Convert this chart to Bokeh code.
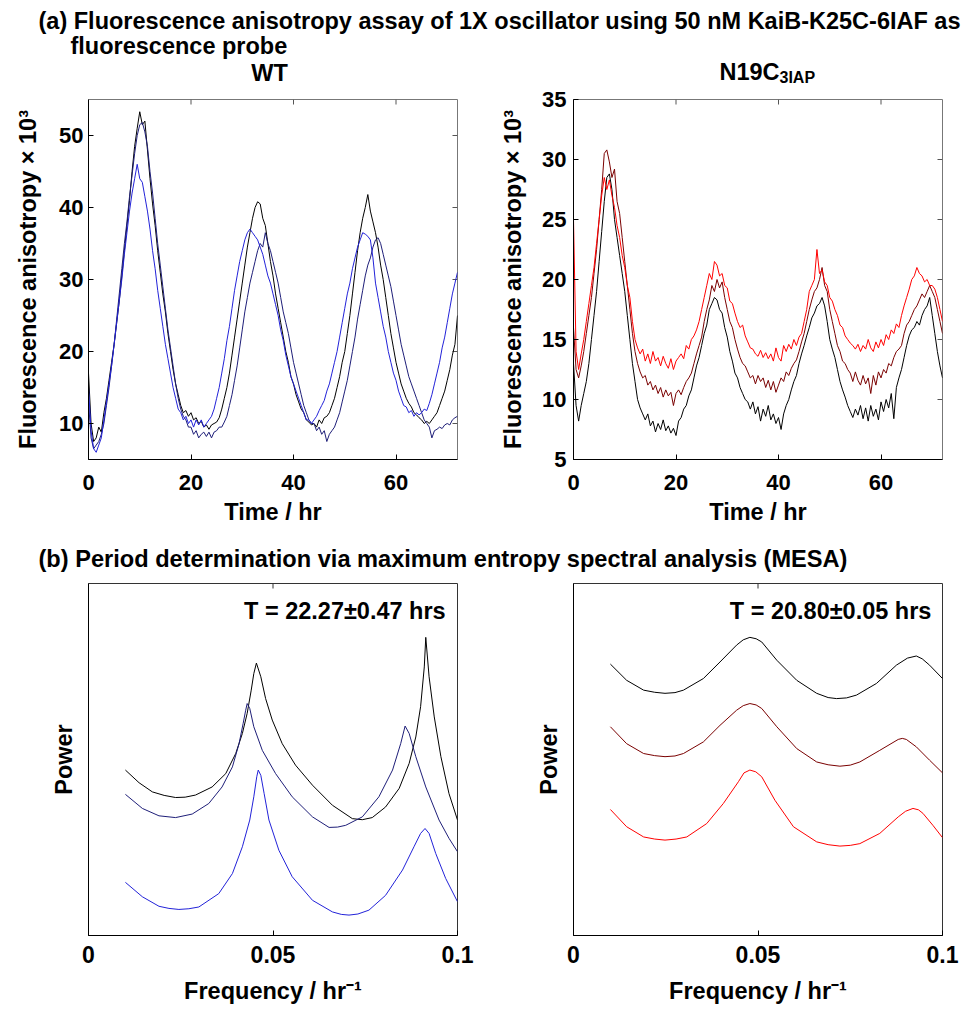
import math
from bokeh.plotting import figure
from bokeh.models import FixedTicker, Range1d, Label
from bokeh.layouts import column, row
from bokeh.embed import file_html
from bokeh.resources import INLINE

FONT = "Liberation Sans"

# ---------------- data: time courses (t = 0 .. 72 h, every 0.5 h) ----------------
TIME_H = [i * 0.5 for i in range(145)]

WT_BLACK = [17, 10, 7.5, 8, 9.5, 8.8, 11.5, 13.5, 16, 18.5,
            21, 24, 27, 30.5, 34, 37.5, 41, 45, 48.5, 51,
            53.3, 51.5, 52, 48, 44, 40.5, 37.5, 34, 31, 28,
            25.5, 22.5, 20, 17.5, 15.5, 14, 12.5, 11.5, 11.8, 11,
            11.5, 10.5, 10.8, 10, 10.3, 9.5, 9.8, 9.2, 9.8, 10,
            10.2, 10.8, 12, 13.5, 15, 17, 19.5, 22, 24.5, 27,
            29.5, 32, 34.5, 36.5, 38.5, 40, 40.8, 40.5, 38.5, 37.5,
            35, 32.5, 30.5, 28, 26, 24, 22, 20, 18.5, 16.5,
            15.5, 14, 13, 12, 11.5, 10.5, 10.2, 9.8, 10, 9.5,
            10.5, 10, 10.8, 11, 11.5, 12.5, 13.5, 15, 16.5, 18.5,
            20, 22.5, 25, 28, 31, 34, 36.5, 38.5, 40, 41.8,
            39.5, 38, 36.5, 34.5, 32, 30, 27.5, 25, 22.5, 20.5,
            18.5, 17, 15.5, 14.5, 13.5, 12.8, 12.3, 11.5, 11.2, 10.8,
            10.5, 10, 10.3, 10, 10.5, 11, 11.5, 12.5, 13.5, 14.5,
            16, 17.5, 19.5, 21, 25]

WT_NAVY = [13, 8, 6.5, 7, 7.5, 8.5, 10, 12.5, 15, 18,
           21, 24.5, 28, 31.5, 35, 38, 41.5, 44.5, 47.5, 50,
           51.5, 51.8, 50.5, 48.5, 45, 42, 38.5, 35, 32, 29,
           26, 23, 20.5, 18, 15.5, 13.5, 12, 11, 10.5, 9.5,
           9.5, 8.5, 9, 8, 8.5, 8.8, 8.2, 8.8, 8, 8.8,
           9, 9.5, 9.5, 10.2, 11, 12.5, 14, 16, 18, 20.5,
           23, 25.5, 27.5, 29.5, 31, 32.5, 34, 35, 34.5, 36.5,
           35, 34, 32.5, 31, 29.5, 27.5, 25.5, 24, 22.5, 20.5,
           18.5, 17, 15.5, 14, 12.5, 11.5, 10.5, 10, 10, 9,
           9.5, 8.5, 9, 7.5, 8.5, 9, 9.5, 10.5, 11.5, 13,
           14.5, 16, 18, 20, 22, 24.5, 26.5, 28.5, 30.5, 32,
           33, 34.5, 35.5, 35.8, 35, 33.5, 32, 30.5, 29, 27,
           25, 23, 21, 19.5, 18, 16.5, 15.5, 14.5, 13.5, 12.5,
           11.5, 10.5, 10, 9.5, 8, 9, 9.2, 9.5, 9.3, 9.8,
           10, 9.8, 10.5, 10.8, 11]

WT_BLUE = [15, 9, 6.5, 6, 7, 8, 10.5, 13, 15.5, 18,
           21, 24, 27, 30, 33.5, 36.5, 39.5, 42, 44, 46,
           44, 43.5, 41.5, 39.5, 37, 34, 31.5, 28.5, 26, 23.5,
           21, 19, 17, 15, 13.5, 12, 11.5, 10.5, 11, 10,
           10.5, 9.5, 10.5, 9.8, 10.5, 9.5, 10, 10.5, 11, 12,
           13.5, 15, 17, 19, 21.5, 23.5, 26, 28.5, 30.5, 32.5,
           34, 35.5, 36.5, 37, 36.5, 36, 35.5, 34.5, 33.5, 32,
           30.5, 29.5, 28, 26.5, 25, 23, 21.5, 19.5, 18, 16.5,
           15.5, 14.5, 13.5, 12.5, 11.5, 10.5, 10.5, 10, 10.5, 11,
           11.8, 12.5, 13.2, 14.5, 15.5, 17, 18.5, 20, 22, 24,
           26, 28, 29.5, 31.5, 33, 34.5, 35.5, 36.5, 36.3, 36,
           35.5, 33, 29.5, 27.5, 25.5, 23.5, 22, 20, 18.5, 17,
           16, 14.5, 13.5, 12.5, 12.3, 11.5, 11.8, 11, 11.5, 11.2,
           11.5, 12, 11.8, 12.8, 14, 15.5, 17, 18.5, 20.5, 22,
           24, 26, 28, 29.5, 31]

N19C_BLACK = [13, 9.5, 8.2, 9.5, 10.5, 11.5, 13, 15, 17, 19,
              21.5, 24, 26.5, 28.5, 28.8, 27.5, 25, 23.5, 22, 20.5,
              19, 17, 15, 13, 11.5, 10, 9.3, 8.8, 8.3, 8.8,
              7.8, 8.2, 7.3, 8, 7.5, 8.3, 7.4, 7.8, 7.2, 7.6,
              7, 8.2, 8.5, 9.2, 9.5, 10.3, 10.8, 11.8, 12.8, 13.5,
              14.5, 15.5, 16.2, 17.5, 18, 18.5, 18.3, 17.5, 17.2, 16,
              15.2, 14, 13.2, 12.2, 11.8, 11, 10.5, 10, 9.8, 9.2,
              9.8, 8.8, 9.4, 8.2, 9.2, 8.6, 9.5, 8.3, 8.8, 8,
              8.5, 7.5, 8.8, 9.5, 10, 10.8, 11.5, 12, 13, 13.8,
              14.5, 15.3, 16, 16.8, 17.2, 17.8, 18, 18.5, 17.8, 16.5,
              15, 14.2, 13.5, 12.5, 11.5, 10.8, 10.2, 9.5, 9, 8.5,
              9.2, 8.7, 9.5, 8.4, 9.3, 8.2, 9.5, 8.6, 9.2, 8.3,
              9.8, 9, 10, 9.3, 10.5, 8.4, 11, 11.8, 12.5, 13.5,
              14.5, 15.3, 15.8, 16, 16.5, 16.2, 17, 17.5, 17.8, 18.5,
              17, 15.5, 14, 12.8, 11.8]

N19C_DARKRED = [16, 12.5, 11.8, 12.8, 14, 15.5, 17, 18.5, 20.5, 22.5,
                25, 27.5, 30.5, 30.8, 29.8, 28.5, 29.2, 26.5, 25.5, 23.5,
                21.5, 19.5, 17.5, 15.5, 14, 13, 12.3, 11.8, 12, 11.2,
                11.5, 10.8, 11.2, 10.5, 11, 10.2, 10.8, 10.3, 10.6, 9.5,
                10.5, 10.8, 10.4, 11, 11.5, 11.8, 12.2, 13, 13.8, 14.5,
                15.2, 16.5, 17.5, 18.3, 19.5, 19, 20, 19.3, 19.8, 18.5,
                17.5, 16.5, 16, 15, 14.2, 13.5, 13, 12.8, 12.3, 11.8,
                12, 11.3, 12, 11.5, 11.8, 11, 11.6, 10.8, 11.5, 10.6,
                11.2, 11.8, 11.5, 12.3, 12, 12.6, 13, 13.3, 14, 14.8,
                15.5, 16.5, 17.5, 18.3, 19, 19.3, 20, 21, 19.5, 19,
                17.5, 16.5, 15.5, 14.5, 14, 13.2, 13, 12.5, 12.2, 11.5,
                12.3, 11.6, 11.2, 12, 11.3, 11.8, 10.5, 12, 11.2, 12.3,
                11.8, 12.5, 12.2, 13, 12.8, 13.5, 14, 14.2, 14.5, 15.5,
                16.2, 16.5, 17, 17.5, 17.8, 18.3, 18.8, 18.5, 19, 19.5,
                19, 18.5, 17.5, 16.5, 15.5]

N19C_RED = [25, 14, 12.5, 13.8, 15, 16.5, 18, 19.5, 21, 23,
            25, 27, 28.5, 27.5, 28.3, 27, 26, 24.5, 23.5, 22,
            21, 19.5, 18.5, 16.5, 15, 14.3, 13.8, 14.2, 13.2, 13.8,
            13, 14, 13.2, 13.5, 12.8, 13.6, 13, 12.6, 13.4, 12.5,
            13.2, 13.5, 13.8, 13.4, 14.5, 14.2, 15, 15.3, 15.8, 16.5,
            17.5, 18.5, 19.5, 20.5, 20, 21.5, 21.2, 20.3, 20.5, 19.5,
            19.3, 18.2, 18, 17.2, 16.5, 16, 16.2, 15.3, 14.8, 14.3,
            14.2, 13.8, 13.6, 14.1, 13.5, 13.9, 13.4, 13.8, 13.2, 14.3,
            13.5, 13.2, 14.5, 14, 14.6, 14.2, 15, 14.5, 15.2, 15.5,
            16.5, 17.5, 19, 19.5, 20, 22.5, 20.5, 20.8, 19.8, 19.5,
            18.5, 18.2, 17.5, 17, 16.2, 16, 15.3, 15, 14.7, 14.5,
            14.2, 14.6, 14, 14.5, 14.2, 15, 14.3, 14, 14.8, 14.3,
            15, 14.5, 15.4, 15, 15.8, 15.5, 16.3, 16, 17, 17.8,
            18.5, 19.2, 20, 20.3, 21, 20.5, 20.3, 19.8, 20, 19.5,
            19.5, 19.2, 18.5, 17.5, 16.5]

# ---------------- data: MESA spectra (frequency in 1/hr, power in arbitrary units) ----------------
WT_SPEC_BLACK_F = [0.0100, 0.0137, 0.0173, 0.0205, 0.0236, 0.0262, 0.0290, 0.0335, 0.0372, 0.0399,
                   0.0417, 0.0430, 0.0441, 0.0448, 0.0455, 0.0467, 0.0480, 0.0498, 0.0525, 0.0561,
                   0.0607, 0.0661, 0.0715, 0.0742, 0.0769, 0.0805, 0.0842, 0.0869, 0.0887, 0.0900,
                   0.0910, 0.0914, 0.0923, 0.0937, 0.0955, 0.0977, 0.1000]
WT_SPEC_BLACK_P = [47.0, 43.4, 40.8, 39.8, 39.2, 39.3, 39.9, 42.2, 46.0, 51.7,
                   57.4, 63.1, 69.7, 74.4, 77.4, 73.5, 67.3, 61.2, 54.5, 48.4,
                   42.7, 37.0, 33.2, 32.9, 33.5, 36.5, 41.8, 48.9, 56.4, 65.0,
                   76.3, 84.7, 73.5, 62.1, 50.8, 40.3, 32.8]
WT_SPEC_NAVY_F = [0.0100, 0.0146, 0.0191, 0.0236, 0.0281, 0.0326, 0.0362, 0.0390, 0.0408, 0.0419,
                  0.0426, 0.0430, 0.0437, 0.0448, 0.0471, 0.0507, 0.0552, 0.0607, 0.0652, 0.0675,
                  0.0697, 0.0742, 0.0787, 0.0824, 0.0846, 0.0858, 0.0869, 0.0887, 0.0914, 0.0950,
                  0.0977, 0.1000]
WT_SPEC_NAVY_P = [40.1, 36.1, 34.0, 33.5, 34.5, 37.5, 42.2, 47.9, 54.5, 60.2,
                  64.0, 65.9, 64.5, 59.3, 52.6, 46.0, 39.4, 33.7, 30.7, 30.8,
                  31.3, 33.7, 39.4, 47.0, 54.5, 59.5, 57.4, 50.8, 42.2, 32.8,
                  27.6, 23.8]
WT_SPEC_BLUE_F = [0.0100, 0.0146, 0.0191, 0.0218, 0.0245, 0.0272, 0.0299, 0.0353, 0.0390, 0.0417,
                  0.0437, 0.0448, 0.0456, 0.0460, 0.0467, 0.0476, 0.0489, 0.0516, 0.0552, 0.0607,
                  0.0661, 0.0685, 0.0706, 0.0730, 0.0760, 0.0805, 0.0851, 0.0882, 0.0900, 0.0912,
                  0.0923, 0.0941, 0.0968, 0.1000]
WT_SPEC_BLUE_P = [15.1, 11.0, 8.3, 7.7, 7.4, 7.6, 8.1, 11.9, 17.6, 25.2,
                  32.8, 39.4, 45.1, 47.0, 45.5, 40.3, 32.8, 24.2, 16.7, 10.0,
                  6.7, 6.0, 5.8, 6.1, 7.2, 11.4, 18.6, 25.2, 29.0, 30.4,
                  29.0, 23.3, 16.2, 9.6]

N19C_SPEC_BLACK_F = [0.0100, 0.0144, 0.0190, 0.0220, 0.0248, 0.0275, 0.0298, 0.0352, 0.0397, 0.0442,
                     0.0460, 0.0478, 0.0495, 0.0510, 0.0551, 0.0605, 0.0659, 0.0690, 0.0713, 0.0740,
                     0.0767, 0.0821, 0.0875, 0.0905, 0.0929, 0.0945, 0.0965, 0.1000]
N19C_SPEC_BLACK_P = [77.1, 72.5, 69.7, 69.1, 68.8, 69.0, 69.7, 73.0, 77.7, 82.5,
                     84.0, 84.7, 84.3, 83.4, 78.2, 72.5, 68.8, 67.6, 67.3, 67.5,
                     68.3, 71.6, 76.8, 78.8, 79.4, 78.6, 76.8, 73.0]
N19C_SPEC_DARKRED_F = [0.0100, 0.0144, 0.0190, 0.0220, 0.0248, 0.0275, 0.0298, 0.0352, 0.0397, 0.0442,
                       0.0460, 0.0478, 0.0495, 0.0510, 0.0551, 0.0605, 0.0659, 0.0690, 0.0722, 0.0750,
                       0.0776, 0.0830, 0.0880, 0.0891, 0.0902, 0.0929, 0.0965, 0.1000]
N19C_SPEC_DARKRED_P = [59.3, 54.5, 51.7, 51.1, 50.8, 51.0, 51.7, 55.0, 59.7, 64.0,
                       65.3, 65.9, 65.5, 64.5, 59.3, 53.1, 49.3, 48.5, 48.1, 48.4,
                       49.3, 52.6, 55.7, 56.0, 55.7, 53.6, 49.8, 46.2]
N19C_SPEC_RED_F = [0.0100, 0.0144, 0.0190, 0.0220, 0.0248, 0.0278, 0.0307, 0.0361, 0.0406, 0.0447,
                   0.0462, 0.0478, 0.0494, 0.0510, 0.0546, 0.0596, 0.0659, 0.0690, 0.0722, 0.0750,
                   0.0776, 0.0830, 0.0880, 0.0900, 0.0920, 0.0935, 0.0947, 0.0974, 0.1000]
N19C_SPEC_RED_P = [35.8, 30.9, 28.0, 27.4, 27.1, 27.4, 28.0, 31.8, 37.5, 43.7,
                   46.2, 47.0, 46.5, 45.1, 38.4, 30.9, 26.6, 25.8, 25.4, 25.6,
                   26.1, 29.0, 33.7, 35.3, 36.1, 35.7, 34.7, 31.3, 27.8]

# ---------------- ticks and texts ----------------
TIME_TICKS = [0, 20, 40, 60]
WT_Y_TICKS = [10, 20, 30, 40, 50]
N19C_Y_TICKS = [5, 10, 15, 20, 25, 30, 35]
FREQ_TICKS = [0, 0.05, 0.1]
FREQ_TICK_LABELS = ["0", "0.05", "0.1"]
PERIOD_WT = "T = 22.27\u00b10.47 hrs"
PERIOD_N19C = "T = 20.80\u00b10.05 hrs"

TITLE_A1 = "(a) Fluorescence anisotropy assay of 1X oscillator using 50 nM KaiB-K25C-6IAF as"
TITLE_A2 = "fluorescence probe"
TITLE_B = "(b) Period determination via maximum entropy spectral analysis (MESA)"
PANEL_WT = "WT"
PANEL_MUT = "N19C"
PANEL_MUT_SUB = "3IAP"
YLABEL_FA = "Fluorescence anisotropy \u00d7 10\u00b3"
XLABEL_T = "Time / hr"
XLABEL_F = "Frequency / hr\u207b\u00b9"

C_BLACK = "#000000"
C_NAVY = "#1e1e78"
C_BLUE = "#2222d8"
C_DARKRED = "#7a0000"
C_RED = "#ff0000"


def style_axis(ax, ticks, label_size):
    ax.ticker = FixedTicker(ticks=ticks)
    ax.major_tick_in = 5
    ax.major_tick_out = 0
    ax.minor_tick_in = 0
    ax.minor_tick_out = 0
    ax.major_tick_line_color = "black"
    ax.major_tick_line_width = 1
    ax.axis_line_color = "black"
    ax.axis_line_width = 1
    ax.major_label_text_font = FONT
    ax.major_label_text_font_style = "bold"
    ax.major_label_text_color = "black"
    ax.major_label_text_font_size = label_size
    ax.axis_label_text_font = FONT
    ax.axis_label_text_font_style = "bold"
    ax.axis_label_text_font_size = "23.5px"
    ax.axis_label_text_color = "black"


def box_ticks(p, top_ticks, right_ticks, y_top, x_right, color):
    # inward ticks on the top and right edges of the box (MATLAB style)
    if top_ticks:
        p.ray(x=top_ticks, y=[y_top] * len(top_ticks), length=5, length_units="screen",
              angle=-math.pi / 2, line_color=color, line_width=1)
    if right_ticks:
        p.ray(x=[x_right] * len(right_ticks), y=right_ticks, length=5, length_units="screen",
              angle=math.pi, line_color=color, line_width=1)


def make_panel(width, height, xr, yr, borders, outline):
    l, r, t, b = borders
    p = figure(width=width, height=height, x_range=Range1d(*xr), y_range=Range1d(*yr),
               output_backend="svg", toolbar_location=None, title=None,
               min_border_left=l, min_border_right=r, min_border_top=t, min_border_bottom=b)
    p.grid.visible = False
    p.outline_line_color = outline
    p.outline_line_width = 1
    p.background_fill_color = "white"
    p.border_fill_color = "white"
    return p


def header(width, height):
    h = figure(width=width, height=height, x_range=Range1d(0, width), y_range=Range1d(0, height),
               output_backend="svg", toolbar_location=None, title=None, min_border=0,
               x_axis_location=None, y_axis_location=None)
    h.grid.visible = False
    h.outline_line_color = None
    return h


def text_label(x, y, text, size, align="left"):
    return Label(x=x, y=y, text=text, text_font=FONT, text_font_style="bold",
                 text_font_size=size, text_color="black", text_align=align,
                 text_baseline="alphabetic")


# ---------------- header (a) + panel titles (canvas 86 px tall, y measured from its bottom) ----------------
h1 = header(966, 86)
h1.add_layout(text_label(38, 66, TITLE_A1, "23.5px"))
h1.add_layout(text_label(70, 41, TITLE_A2, "23.5px"))
h1.add_layout(text_label(269, 13.5, PANEL_WT, "23.5px", "center"))
h1.add_layout(text_label(779, 14.5, PANEL_MUT, "23.5px", "right"))
h1.add_layout(text_label(779, 9.3, PANEL_MUT_SUB, "16px", "left"))

# ---------------- panel WT time course ----------------
p1 = make_panel(488, 454, (0, 72), (5, 55), (88, 31, 13, 81), "#777777")
style_axis(p1.below[0], TIME_TICKS, "22px")
style_axis(p1.left[0], WT_Y_TICKS, "22px")
p1.below[0].axis_label = XLABEL_T
p1.left[0].axis_label = YLABEL_FA
p1.below[0].major_label_standoff = 15
p1.below[0].axis_label_standoff = 6
p1.left[0].major_label_standoff = 5
p1.left[0].axis_label_standoff = 15
box_ticks(p1, TIME_TICKS[1:], WT_Y_TICKS, 55, 72, "#555555")
p1.line(TIME_H, WT_BLACK, line_color=C_BLACK, line_width=1)
p1.line(TIME_H, WT_NAVY, line_color=C_NAVY, line_width=1)
p1.line(TIME_H, WT_BLUE, line_color=C_BLUE, line_width=1)

# ---------------- panel N19C time course ----------------
p2 = make_panel(478, 454, (0, 72), (5, 35), (85, 24, 13, 81), "#777777")
style_axis(p2.below[0], TIME_TICKS, "22px")
style_axis(p2.left[0], N19C_Y_TICKS, "22px")
p2.below[0].axis_label = XLABEL_T
p2.left[0].axis_label = YLABEL_FA
p2.below[0].major_label_standoff = 15
p2.below[0].axis_label_standoff = 6
p2.left[0].major_label_standoff = 7
p2.left[0].axis_label_standoff = 13
box_ticks(p2, TIME_TICKS[1:], N19C_Y_TICKS[1:-1], 35, 72, "#555555")
p2.line(TIME_H, N19C_BLACK, line_color=C_BLACK, line_width=1)
p2.line(TIME_H, N19C_DARKRED, line_color=C_DARKRED, line_width=1)
p2.line(TIME_H, N19C_RED, line_color=C_RED, line_width=1)

# ---------------- header (b) ----------------
h2 = header(966, 38)
h2.add_layout(text_label(38, 20, TITLE_B, "23.6px"))


# ---------------- spectra ----------------
def spectrum_panel(width, borders):
    p = make_panel(width, 430, (0, 0.1), (0, 100), borders, "#333333")
    style_axis(p.below[0], FREQ_TICKS, "23px")
    p.below[0].major_label_overrides = dict(zip(FREQ_TICKS, FREQ_TICK_LABELS))
    style_axis(p.left[0], [], "23px")
    p.below[0].axis_label = XLABEL_F
    p.left[0].axis_label = "Power"
    p.below[0].major_label_standoff = 10
    p.below[0].axis_label_standoff = 12
    p.left[0].major_label_standoff = 0
    p.left[0].axis_label_standoff = 12
    box_ticks(p, FREQ_TICKS[1:2], [], 100, 0.1, "#333333")
    return p


p3 = spectrum_panel(488, (88, 31, 5, 73))
p3.line(WT_SPEC_BLACK_F, WT_SPEC_BLACK_P, line_color=C_BLACK, line_width=1)
p3.line(WT_SPEC_NAVY_F, WT_SPEC_NAVY_P, line_color=C_NAVY, line_width=1)
p3.line(WT_SPEC_BLUE_F, WT_SPEC_BLUE_P, line_color=C_BLUE, line_width=1)
p3.add_layout(text_label(0.0968, 92.2, PERIOD_WT, "23.5px", "right"))

p4 = spectrum_panel(478, (85, 24, 5, 73))
p4.line(N19C_SPEC_BLACK_F, N19C_SPEC_BLACK_P, line_color=C_BLACK, line_width=1)
p4.line(N19C_SPEC_DARKRED_F, N19C_SPEC_DARKRED_P, line_color=C_DARKRED, line_width=1)
p4.line(N19C_SPEC_RED_F, N19C_SPEC_RED_P, line_color=C_RED, line_width=1)
p4.add_layout(text_label(0.0970, 92.2, PERIOD_N19C, "23.5px", "right"))

layout = column(h1, row(p1, p2), h2, row(p3, p4))

with open("out.html", "w") as f:
    f.write(file_html(layout, INLINE, "KaiB fluorescence anisotropy"))
